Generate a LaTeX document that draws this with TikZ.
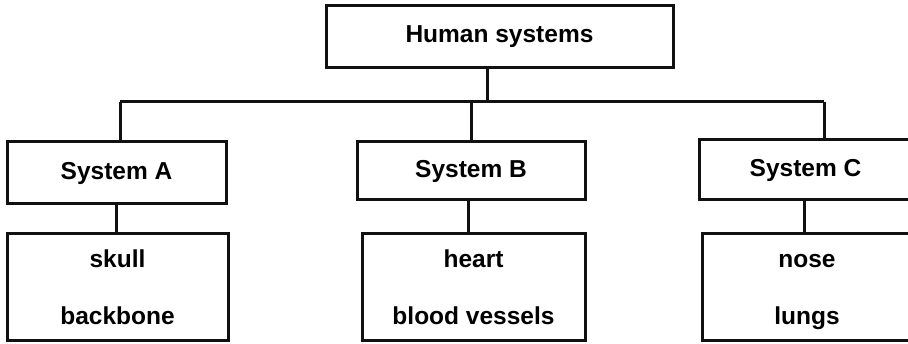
\documentclass[tikz,border=0pt]{standalone}
\usepackage{fontspec}
\setmainfont{Liberation Sans}
\usetikzlibrary{positioning}
\definecolor{ink}{HTML}{111111}
\tikzset{
  box/.style={
    draw=ink, line width=3pt, fill=white,
    inner sep=0pt, align=center,
    font=\fontsize{24.5}{29}\selectfont\bfseries
  },
  list/.style={
    box, font=\fontsize{24.5}{57}\selectfont\bfseries
  },
  link/.style={draw=ink, line width=3pt}
}

\begin{document}
\begin{tikzpicture}[x=1pt, y=-1pt]
    \path[fill=white] (0,0) rectangle (908,344);
    \useasboundingbox (0,0) rectangle (908,344);
    % top of the tree
    \node[box, minimum width=347pt, minimum height=62pt] (human) at (499.5,37) {Human systems};
    % the three systems
    \node[box, minimum width=219pt, minimum height=62pt] (sysa) at (116.5,173) {System A};
    \node[box, minimum width=228pt, minimum height=58pt] (sysb) at (471,171) {System B};
    \node[box, minimum width=213pt, minimum height=60pt] (sysc) at (805.5,170) {System C};
    % their parts
    \node[list, minimum width=221pt, minimum height=107pt] (orga) at (117.5,287.5) {skull\\backbone};
    \node[list, minimum width=223pt, minimum height=107pt] (orgb) at (473.5,287.5) {heart\\blood vessels};
    \node[list, minimum width=210pt, minimum height=107pt] (orgc) at (807,287) {\vphantom{l}nose\\\raisebox{0pt}[\height][0pt]{lungs}};
    % the bus
    \coordinate (jt) at (487,102);
    \coordinate (ja) at (120,102);
    \coordinate (jb) at (471,102);
    \coordinate (jc) at (824,102);
    \draw[link] (human.south -| jt) -- (jt);
    \draw[link] (ja) -- (jc);
    \draw[link] (ja) -- (ja |- sysa.north);
    \draw[link] (jb) -- (jb |- sysb.north);
    \draw[link] (jc) -- (jc |- sysc.north);
    \draw[link] (sysa.south) -- (sysa.south |- orga.north);
    \draw[link] ([xshift=-3pt]sysb.south) -- ([xshift=-3pt]sysb.south |- orgb.north);
    \draw[link] ([xshift=-1.5pt]sysc.south) -- ([xshift=-1.5pt]sysc.south |- orgc.north);
\end{tikzpicture}
\end{document}
